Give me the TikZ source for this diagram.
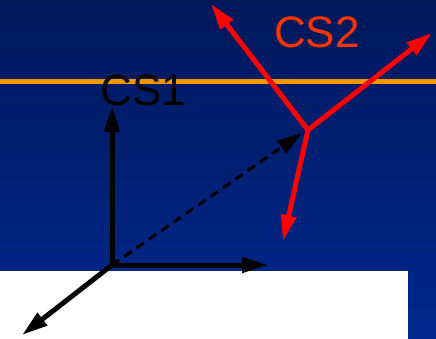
\documentclass[tikz,border=0pt]{standalone}
\usepackage{fontspec}
\setmainfont{Liberation Sans}
\usetikzlibrary{arrows.meta}
\definecolor{bgtop}{RGB}{0,24,90}
\definecolor{bgbot}{RGB}{0,40,142}
\definecolor{rule}{RGB}{240,150,0}
\definecolor{cstwo}{RGB}{255,51,0}
\tikzset{
  axis/.style={line width=5pt,-{Triangle[length=26pt,width=15pt]}},
  blackaxis/.style={axis,draw=black},
  redaxis/.style={axis,draw=red},
  dashedarrow/.style={line width=3pt,dash pattern=on 9pt off 6pt,-{Triangle[length=25pt,width=15pt]}},
  lbl/.style={font=\fontsize{44}{44}\selectfont,inner sep=0pt,anchor=base}
}
\begin{document}
\begin{tikzpicture}[x=1pt,y=-1pt]
\useasboundingbox (0,0) rectangle (436,339);
\shade[top color=bgtop,bottom color=bgbot] (0,0) rectangle (436,339);
\fill[white] (0,271) rectangle (408,339);
\coordinate (rl) at (0,82);
\coordinate (rr) at (436,82);
\draw[rule,line width=5pt] (rl) -- (rr);
% CS1
\coordinate (o1) at (112,265);
\coordinate (x1) at (268,265);
\coordinate (y1) at (112,106);
\coordinate (z1) at (22,335);
\draw[blackaxis] (o1) -- (y1);
\draw[blackaxis] (o1) -- (x1);
\draw[blackaxis] (o1) -- (z1);
% CS2
\coordinate (o2) at (308,130);
\coordinate (a2) at (211,4);
\coordinate (b2) at (432,33);
\coordinate (c2) at (283,241);
\draw[redaxis] (o2) -- (a2);
\draw[redaxis] (o2) -- (b2);
\draw[redaxis] (o2) -- (c2);
\coordinate (d2) at (302,133);
\draw[dashedarrow] (o1) -- (d2);
\node[lbl,text=black] (cs1) at (143.5,106) {CS1};
\node[lbl,text=cstwo] (cs2) at (317,48) {CS2};
\end{tikzpicture}
\end{document}
